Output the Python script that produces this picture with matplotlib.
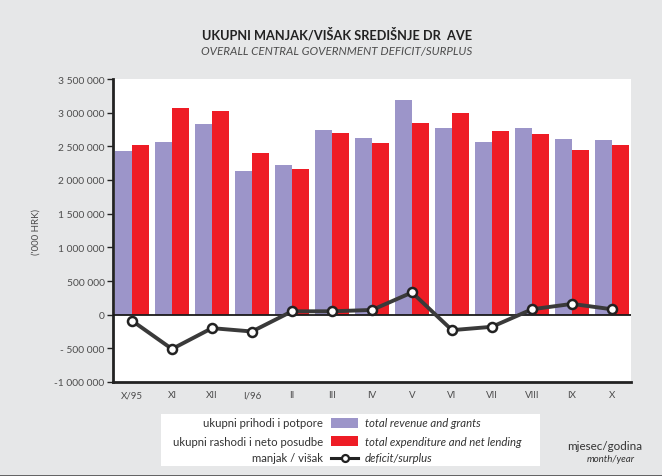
import matplotlib.pyplot as plt
from matplotlib.patches import Rectangle
from matplotlib.lines import Line2D

months = ["X/95", "XI", "XII", "I/96", "II", "III", "IV", "V", "VI", "VII", "VIII", "IX", "X"]
revenue = [2430000, 2560000, 2830000, 2140000, 2230000, 2740000, 2620000,
           3190000, 2770000, 2560000, 2770000, 2610000, 2590000]
expenditure = [2520000, 3070000, 3030000, 2400000, 2170000, 2700000, 2550000,
               2850000, 3000000, 2730000, 2680000, 2440000, 2520000]
deficit = [-90000, -510000, -200000, -250000, 50000, 50000, 70000,
           330000, -230000, -180000, 80000, 160000, 80000]
yticks = [-1000000, -500000, 0, 500000, 1000000, 1500000, 2000000, 2500000, 3000000, 3500000]
ytick_labels = ["-1 000 000", "- 500 000", "0", "500 000", "1 000 000", "1 500 000",
                "2 000 000", "2 500 000", "3 000 000", "3 500 000"]

bg = "#e6e7e8"
purple = "#9c95c9"
red = "#ee1c25"
gray_txt = "#4d4d4d"

plt.rcParams['font.family'] = ['Lato', 'DejaVu Sans']

fig = plt.figure(figsize=(6.62, 4.77), dpi=100)
fig.patch.set_facecolor(bg)
W, H = 662, 477

ax = fig.add_axes([113 / W, (H - 383) / H, (631 - 113) / W, (383 - 80) / H])
ax.set_facecolor("white")

x = list(range(len(months)))
bw = 0.425
ax.bar([i - bw / 2 for i in x], revenue, width=bw, color=purple, zorder=2)
ax.bar([i + bw / 2 for i in x], expenditure, width=bw, color=red, zorder=2)
ax.axhline(0, color="#1a1a1a", lw=1.3, zorder=3)
ax.plot(x, deficit, color="#3a3a3a", lw=2.8, marker="o", ms=6.5,
        mfc="white", mec="#222222", mew=1.8, zorder=4)

ax.set_xlim(-0.475, 12.475)
ax.set_ylim(-1000000, 3500000)
ax.set_yticks(yticks)
ax.set_yticklabels(ytick_labels, color=gray_txt, fontsize=7.4)
ax.set_xticks(x)
ax.set_xticklabels(months, color=gray_txt, fontsize=7)
ax.tick_params(axis="y", length=4, width=1, color="#222222", pad=2)
ax.tick_params(axis="x", length=0, pad=6)
for s in ["top", "right"]:
    ax.spines[s].set_visible(False)
for s in ["left", "bottom"]:
    ax.spines[s].set_linewidth(2)
    ax.spines[s].set_color("#222222")

fig.text(36 / W, 1 - 232 / H, "('000 HRK)", rotation=90, ha="center", va="center",
         fontsize=7, color=gray_txt)

fig.text(337 / W, 1 - 35 / H, "UKUPNI MANJAK/VIŠAK SREDIŠNJE DR  AVE", ha="center", va="center",
         fontsize=9.2, fontweight="bold", color="#222222")
fig.text(337 / W, 1 - 51 / H, "OVERALL CENTRAL GOVERNMENT DEFICIT/SURPLUS", ha="center", va="center",
         fontsize=8.4, style="italic", color=gray_txt)

# legend box
fig.patches.append(Rectangle((161 / W, 1 - 467 / H), (540 - 161) / W, (467 - 415) / H,
                             transform=fig.transFigure, facecolor="white", edgecolor="none"))
rows_y = [424, 442, 459]
left_txt = ["ukupni prihodi i potpore", "ukupni rashodi i neto posudbe", "manjak / višak"]
right_txt = ["total revenue and grants", "total expenditure and net lending", "deficit/surplus"]
for k in range(3):
    yy = 1 - rows_y[k] / H
    fig.text(323 / W, yy, left_txt[k], ha="right", va="center", fontsize=8.2, color="#333333")
    fig.text(365 / W, yy, right_txt[k], ha="left", va="center", fontsize=8.2,
             style="italic", color="#333333")
for k, c in enumerate([purple, red]):
    yy = rows_y[k]
    fig.patches.append(Rectangle((331 / W, 1 - (yy + 5) / H), 27 / W, 10 / H,
                                 transform=fig.transFigure, facecolor=c, edgecolor="none"))
fig.lines.append(Line2D([331 / W, 358 / W], [1 - 459 / H, 1 - 459 / H], transform=fig.transFigure,
                        color="#222222", lw=2.2))
fig.lines.append(Line2D([344.5 / W], [1 - 459 / H], transform=fig.transFigure,
                        color="#222222", marker="o", ms=5, mfc="white", mec="#222222", mew=1.6))

fig.text(642 / W, 1 - 447 / H, "mjesec/godina", ha="right", va="center", fontsize=8.4, color="#333333")
fig.text(635 / W, 1 - 460 / H, "month/year", ha="right", va="center", fontsize=7,
         style="italic", color="#333333")

# bottom border of the frame
fig.lines.append(Line2D([0, 1], [0.5 / H, 0.5 / H], transform=fig.transFigure,
                        color="#555555", lw=2))

fig.savefig("out.png", dpi=100, facecolor=bg)
